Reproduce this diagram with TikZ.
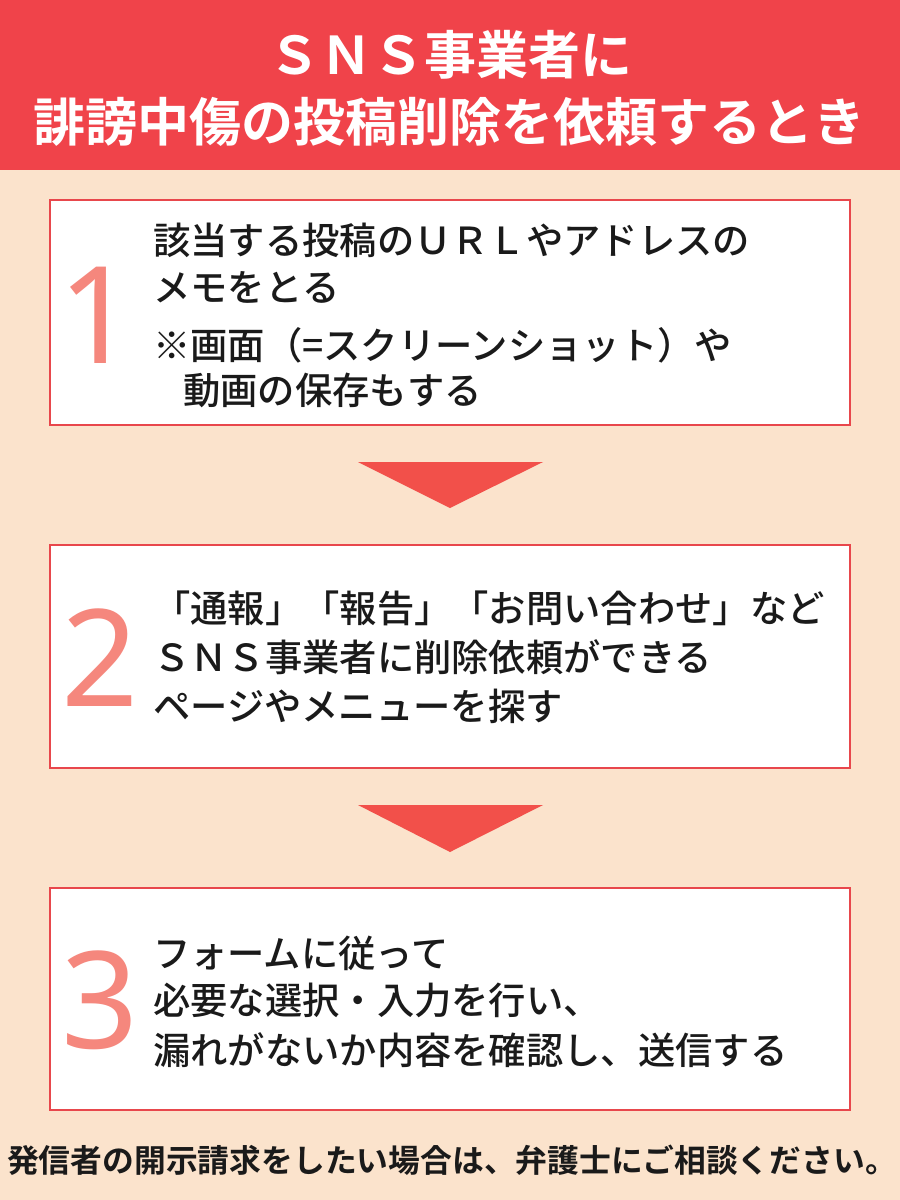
\documentclass[tikz,border=0pt]{standalone}
\usepackage{fontspec}
\setmainfont{Noto Sans CJK JP Medium}[BoldFont={Noto Sans CJK JP Bold}]
\newfontfamily\numfont{Noto Sans}
\definecolor{hdr}{HTML}{F0434A}
\definecolor{bg}{HTML}{FBE3CC}
\definecolor{bord}{HTML}{E8474C}
\definecolor{num}{HTML}{F5877D}
\definecolor{arr}{HTML}{F2504A}
\definecolor{txt}{HTML}{1A1A1A}
\tikzset{
 stepbox/.style={draw=bord,line width=1.2pt,fill=white},
 ln/.style={anchor=west,inner sep=0,font=\fontsize{37.3}{37.3}\selectfont,text=txt},
 numtxt/.style={inner sep=0,font=\numfont\fontsize{135}{135}\selectfont,text=num},
 tri/.style={fill=arr}
}
\begin{document}
\begin{tikzpicture}[x=1pt,y=-1pt]
\useasboundingbox (0,0) rectangle (900,1200);
\fill[bg] (0,0) rectangle (900,1200);
\fill[hdr] (0,0) rectangle (900,170);
\node[inner sep=0,text=white,font=\bfseries\fontsize{52}{52}\selectfont] (t1) at (450,55) {ＳＮＳ事業者に};
\node[inner sep=0,text=white,font=\bfseries\fontsize{52}{52}\selectfont] (t2) at (450,122) {誹謗中傷の投稿削除を依頼するとき};
\filldraw[stepbox] (50,200) rectangle (850,425);
\filldraw[stepbox] (50,545) rectangle (850,768);
\filldraw[stepbox] (50,888) rectangle (850,1110);
\fill[tri] (358,462) -- (543,462) -- (450,508) -- cycle;
\fill[tri] (358,805) -- (543,805) -- (450,852) -- cycle;
\node[numtxt] (n1) at (97,315) {1};
\node[numtxt] (n2) at (100,658) {2};
\node[numtxt] (n3) at (100,1000) {3};
\node[ln] (a1) at (153,240) {該当する投稿のＵＲＬやアドレスの};
\node[ln] (a2) at (153,287) {メモをとる};
\node[ln] (a3) at (153,345) {※画面（=スクリーンショット）や};
\node[ln] (a4) at (183,390) {動画の保存もする};
\node[ln] (b1) at (153,608) {「通報」「報告」「お問い合わせ」など};
\node[ln] (b2) at (153,657) {ＳＮＳ事業者に削除依頼ができる};
\node[ln] (b3) at (153,706) {ページやメニューを探す};
\node[ln] (c1) at (153,953) {フォームに従って};
\node[ln] (c2) at (153,1000) {必要な選択・入力を行い、};
\node[ln] (c3) at (153,1050) {漏れがないか内容を確認し、送信する};
\node[inner sep=0,text=txt,font=\bfseries\fontsize{31.8}{31.8}\selectfont] (f) at (452,1160) {発信者の開示請求をしたい場合は、弁護士にご相談ください。};
\end{tikzpicture}
\end{document}
